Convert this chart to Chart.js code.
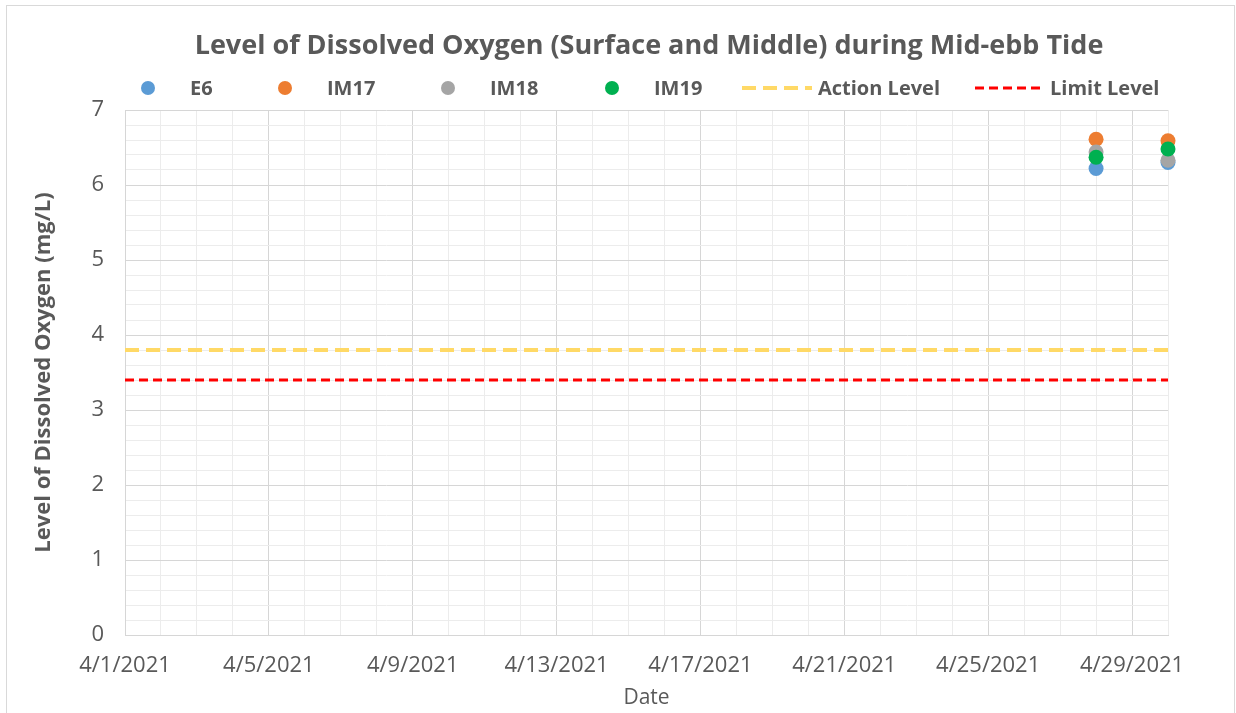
<!DOCTYPE html>
<html>
<head>
<meta charset="utf-8">
<script src="https://cdn.jsdelivr.net/npm/chart.js@4.4.0/dist/chart.umd.min.js"></script>
<style>
  html, body { margin: 0; padding: 0; background: #ffffff; }
  #wrap { position: relative; width: 1236px; height: 713px; }
  canvas { display: block; }
</style>
</head>
<body>
<div id="wrap"><canvas id="c" width="1236" height="713"></canvas></div>
<script>
// ---- data ----
const chartTitle = 'Level of Dissolved Oxygen (Surface and Middle) during Mid-ebb Tide';
const xTitle = 'Date';
const yTitle = 'Level of Dissolved Oxygen (mg/L)';
const sampleDates = ['4/28/2021', '4/30/2021'];
const e6 = [6.22, 6.30];
const im17 = [6.61, 6.59];
const im18 = [6.44, 6.33];
const im19 = [6.37, 6.48];
const levelDates = ['4/1/2021', '4/30/2021'];
const actionLevel = [3.8, 3.8];
const limitLevel = [3.4, 3.4];
const xTickLabels = ['4/1/2021', '4/5/2021', '4/9/2021', '4/13/2021', '4/17/2021', '4/21/2021', '4/25/2021', '4/29/2021'];
const yTickLabels = ['0', '1', '2', '3', '4', '5', '6', '7'];

// day-of-April from "m/d/yyyy"
const dayOf = s => parseInt(s.split('/')[1], 10);
const toPts = (dates, vals) => dates.map((d, i) => ({ x: dayOf(d), y: vals[i] }));
const labelByDay = {};
xTickLabels.forEach(l => { labelByDay[dayOf(l)] = l; });

const FONT = "'Open Sans', 'Liberation Sans', sans-serif";
const TXT = '#595959';

const scatterDs = (label, vals, color, order) => ({
  label, data: toPts(sampleDates, vals), showLine: false, clip: false, order,
  pointRadius: 7.5, pointHoverRadius: 7.5, pointBackgroundColor: color,
  pointBorderColor: color, pointBorderWidth: 0, backgroundColor: color, borderColor: color,
  kind: 'point'
});
const lineDs = (label, vals, color, width, dash) => ({
  label, data: toPts(levelDates, vals), showLine: true, pointRadius: 0, order: 10,
  borderColor: color, backgroundColor: color, borderWidth: width, borderDash: dash,
  kind: 'line'
});

// later series are drawn on top (lower order = drawn later in Chart.js)
const datasets = [
  scatterDs('E6', e6, '#5B9BD5', 4),
  scatterDs('IM17', im17, '#ED7D31', 3),
  scatterDs('IM18', im18, '#A5A5A5', 2),
  scatterDs('IM19', im19, '#00B050', 1),
  lineDs('Action Level', actionLevel, '#FFD966', 4, [14, 7]),
  lineDs('Limit Level', limitLevel, '#FF0000', 3, [9, 5])
];

const legendPos = [
  { mx: 148, tx: 190 }, { mx: 285, tx: 327 }, { mx: 448, tx: 490 },
  { mx: 612, tx: 654 }, { x0: 742, x1: 812, tx: 818 }, { x0: 975, x1: 1044, tx: 1050 }
];

const decor = {
  id: 'decor',
  afterDraw(chart) {
    const ctx = chart.ctx;
    const ca = chart.chartArea;
    ctx.save();
    // outer border
    ctx.strokeStyle = '#d9d9d9';
    ctx.lineWidth = 1;
    ctx.strokeRect(6.5, 5.5, 1228, 720);
    // title
    ctx.fillStyle = TXT;
    ctx.textAlign = 'center';
    ctx.textBaseline = 'middle';
    ctx.font = 'bold 27px ' + FONT;
    ctx.fillText(chartTitle, 649, 46);
    // legend
    ctx.font = 'bold 20px ' + FONT;
    ctx.textAlign = 'left';
    const ly = 88;
    chart.data.datasets.forEach((ds, i) => {
      const p = legendPos[i];
      if (ds.kind === 'point') {
        ctx.beginPath();
        ctx.fillStyle = ds.pointBackgroundColor;
        ctx.arc(p.mx, ly, 7, 0, Math.PI * 2);
        ctx.fill();
      } else {
        ctx.beginPath();
        ctx.strokeStyle = ds.borderColor;
        ctx.lineWidth = ds.borderWidth;
        ctx.setLineDash(ds.borderDash);
        ctx.moveTo(p.x0, ly);
        ctx.lineTo(p.x1, ly);
        ctx.stroke();
        ctx.setLineDash([]);
      }
      ctx.fillStyle = TXT;
      ctx.fillText(ds.label, p.tx, ly + 1);
    });
    // axis titles
    ctx.textAlign = 'center';
    ctx.font = '21px ' + FONT;
    ctx.fillText(xTitle, (ca.left + ca.right) / 2, 698);
    ctx.save();
    ctx.translate(44, (ca.top + ca.bottom) / 2);
    ctx.rotate(-Math.PI / 2);
    ctx.font = 'bold 22px ' + FONT;
    ctx.fillText(yTitle, 0, 0);
    ctx.restore();
    ctx.restore();
  }
};

new Chart(document.getElementById('c'), {
  type: 'scatter',
  data: { datasets },
  options: {
    responsive: false,
    animation: false,
    events: [],
    layout: { padding: { top: 110, right: 68, left: 0, bottom: 0 } },
    plugins: { legend: { display: false }, title: { display: false }, tooltip: { enabled: false } },
    scales: {
      x: {
        type: 'linear', min: 1, max: 30,
        afterFit: s => { s.height = 78; },
        afterBuildTicks: s => { s.ticks = []; for (let d = 1; d <= 30; d++) s.ticks.push({ value: d }); },
        ticks: {
          autoSkip: false, maxRotation: 0, padding: 18,
          color: TXT, font: { family: FONT, size: 22 },
          callback: v => labelByDay[v] || ''
        },
        grid: {
          drawTicks: false,
          color: c => (c.tick && (c.tick.value - 1) % 4 === 0) ? '#d6d6d6' : '#ececec',
          lineWidth: 1
        },
        border: { color: '#d6d6d6' }
      },
      y: {
        type: 'linear', min: 0, max: 7,
        afterFit: s => { s.width = 125; },
        afterBuildTicks: s => { s.ticks = []; for (let i = 0; i <= 35; i++) s.ticks.push({ value: i / 5 }); },
        ticks: {
          autoSkip: false, padding: 21,
          color: TXT, font: { family: FONT, size: 22 },
          callback: v => {
            const r = Math.round(v);
            return Math.abs(v - r) < 1e-6 ? yTickLabels[r] : '';
          }
        },
        grid: {
          drawTicks: false,
          color: c => (c.tick && Math.abs(c.tick.value - Math.round(c.tick.value)) < 1e-6) ? '#d6d6d6' : '#ececec',
          lineWidth: 1
        },
        border: { color: '#d6d6d6' }
      }
    }
  },
  plugins: [decor]
});
</script>
</body>
</html>
